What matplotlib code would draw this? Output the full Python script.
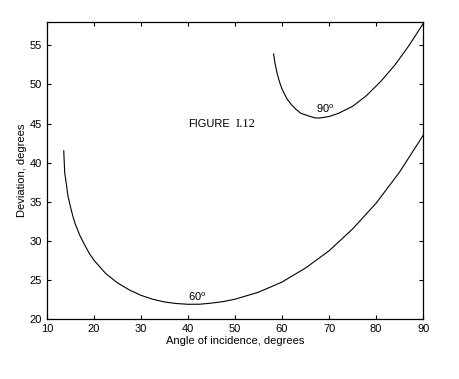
import matplotlib
matplotlib.use("Agg")
import matplotlib.pyplot as plt

# angle of incidence (deg) and deviation (deg)
inc_60 = [13.6, 13.8, 14.0, 14.5, 15, 15.5, 16, 17, 18, 19, 20, 22.5, 25, 27.5,
          30, 32.5, 35, 37.5, 40, 42.5, 45, 47.5, 50, 55, 60, 65, 70, 75, 80,
          85, 90]
dev_60 = [41.5, 38.7, 37.9, 35.7, 34.4, 33.2, 32.2, 30.7, 29.5, 28.4, 27.5,
          25.8, 24.6, 23.7, 23.0, 22.5, 22.15, 21.95, 21.85, 21.86, 22.0, 22.2,
          22.5, 23.4, 24.7, 26.5, 28.7, 31.5, 34.8, 38.8, 43.5]

inc_90 = [58.2, 58.5, 59, 59.5, 60, 60.5, 61, 62, 63, 64, 65, 66, 67, 68, 70,
          72, 75, 78, 81, 84, 87, 90]
dev_90 = [53.9, 52.7, 51.3, 50.25, 49.4, 48.8, 48.2, 47.4, 46.8, 46.3, 46.1,
          45.9, 45.72, 45.7, 45.9, 46.3, 47.2, 48.6, 50.4, 52.5, 55.0, 57.8]

xticks = [10, 20, 30, 40, 50, 60, 70, 80, 90]
yticks = [20, 25, 30, 35, 40, 45, 50, 55]

plt.rcParams['font.family'] = ['Liberation Sans', 'DejaVu Sans']
plt.rcParams['mathtext.default'] = 'regular'

fig = plt.figure(figsize=(4.59, 3.79), dpi=100)
ax = fig.add_axes([0.102, 0.159, 0.820, 0.783])

ax.plot(inc_60, dev_60, color='black', lw=0.8)
ax.plot(inc_90, dev_90, color='black', lw=0.8)

ax.text(40.0, 22.3, '60$^o$', fontsize=8)
ax.text(67.2, 46.3, '90$^o$', fontsize=8)
ax.text(40.0, 45.0, 'FIGURE', fontsize=8, va='center')
ax.text(50.2, 45.0, 'I.12', fontsize=9, va='center', family='Liberation Serif')

ax.set_xlim(10, 90)
ax.set_ylim(20, 58)
ax.set_xticks(xticks)
ax.set_yticks(yticks)
ax.tick_params(direction='in', top=True, right=True, labelsize=8, length=3, width=0.8)
for s in ax.spines.values():
    s.set_linewidth(0.9)

ax.set_xlabel('Angle of incidence, degrees', fontsize=8, labelpad=2)
ax.set_ylabel('Deviation, degrees', fontsize=8, labelpad=2)

fig.savefig('out.png', dpi=100)
